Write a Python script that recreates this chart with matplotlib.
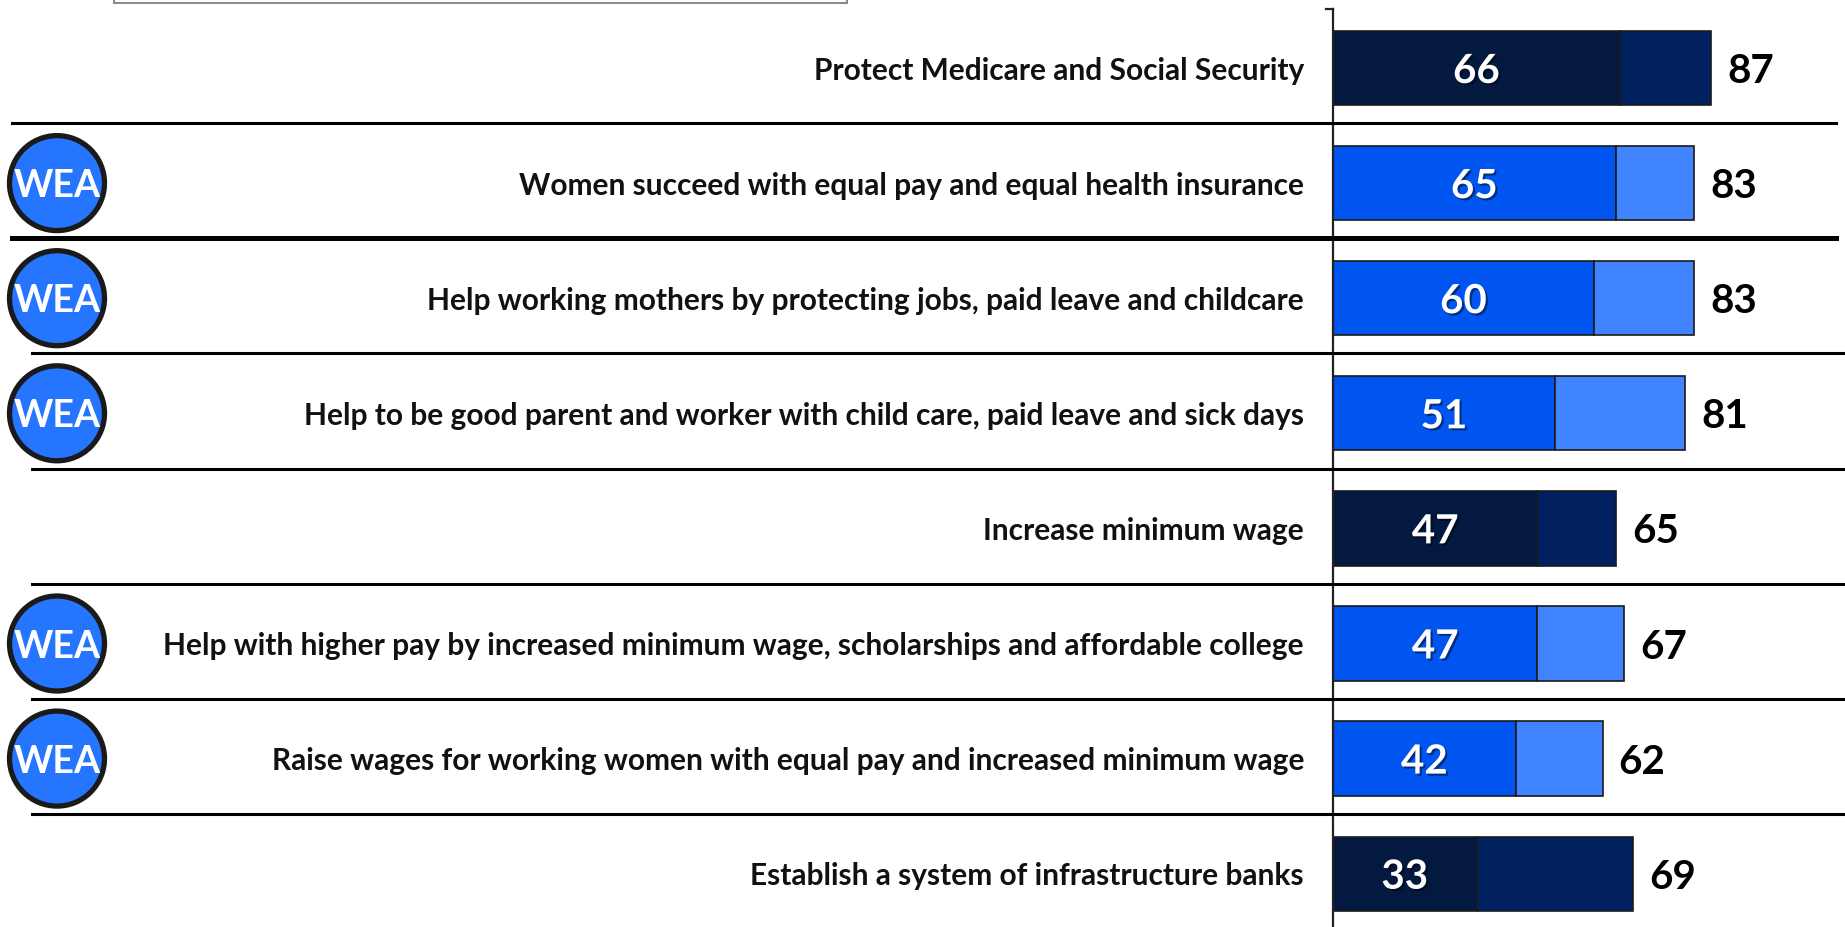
import matplotlib
matplotlib.use("Agg")
import matplotlib.pyplot as plt
import matplotlib.patches as mpatches
import matplotlib.transforms as mtransforms
import matplotlib.patheffects as pe

plt.rcParams['font.family'] = ['Lato', 'DejaVu Sans']
plt.rcParams['font.weight'] = 'bold'

# data
labels = [
    "Protect Medicare and Social Security",
    "Women succeed with equal pay and equal health insurance",
    "Help working mothers by protecting jobs, paid leave and childcare",
    "Help to be good parent and worker with child care, paid leave and sick days",
    "Increase minimum wage",
    "Help with higher pay by increased minimum wage, scholarships and affordable college",
    "Raise wages for working women with equal pay and increased minimum wage",
    "Establish a system of infrastructure banks",
]
strong = [66, 65, 60, 51, 47, 47, 42, 33]
total = [87, 83, 83, 81, 65, 67, 62, 69]
wea = [False, True, True, True, False, True, True, False]

# layout (pixels of the 1845x927 output)
W, H = 1845, 927
axis_px = 1333
ppu = 4.35
row0, step = 68, 115.1

fig = plt.figure(figsize=(W / 100, H / 100), dpi=100)
ax = fig.add_axes([axis_px / W, 0, 1 - axis_px / W, 1])
ax.set_xlim(0, (W - axis_px) / ppu)
ax.set_ylim((H - row0) / step, -row0 / step)
ax.axis('off')

rows = list(range(len(labels)))
dark1, dark2 = '#03193f', '#002060'
blue1, blue2 = '#0055f0', '#4084ff'
c1 = [blue1 if w else dark1 for w in wea]
c2 = [blue2 if w else dark2 for w in wea]
second = [t - s for s, t in zip(strong, total)]

ax.barh(rows, strong, height=0.645, color=c1, edgecolor='#1a1a1a', linewidth=1.2)
ax.barh(rows, second, left=strong, height=0.645, color=c2, edgecolor='#1a1a1a', linewidth=1.2)

shadow = [pe.SimplePatchShadow(offset=(1.5, -1.5), shadow_rgbFace='black', alpha=0.45), pe.Normal()]
for i in rows:
    ax.text(strong[i] / 2, i, str(strong[i]), color='white', fontsize=29, ha='center',
            va='center_baseline', path_effects=shadow)
    ax.text(total[i] + 16 / ppu, i, str(total[i]), color='black', fontsize=29, ha='left',
            va='center_baseline')

# vertical axis line with top tick
top_i = (9 - row0) / step
ax.plot([0, 0], [top_i, (H - row0) / step], color='#222222', lw=1.6, clip_on=False)
ax.plot([-7 / ppu, 0], [top_i, top_i], color='#222222', lw=1.6, clip_on=False)

blend = mtransforms.blended_transform_factory(fig.transFigure, ax.transData)

# separators
for k in range(len(labels) - 1):
    y = k + 0.48
    if k < 2:
        x0, x1 = 12 / W, 1836 / W
    else:
        x0, x1 = 32 / W, 1.0
    lw = 3.6 if k == 1 else 2.2
    ax.plot([x0, x1], [y, y], color='black', lw=lw, transform=blend, clip_on=False)

# category labels and WEA badges
for i in rows:
    ax.text(1304 / W, i, labels[i], transform=blend, ha='right', va='center_baseline',
            fontsize=21.5, color='#111111')
    if wea[i]:
        ax.add_patch(mpatches.Ellipse((57 / W, i), 95 / W, 95 / step, transform=blend,
                                      facecolor='#2575ff', edgecolor='#1a1a1a', lw=3.8,
                                      clip_on=False, zorder=5))
        ax.text(57 / W, i, 'WEA', transform=blend, ha='center', va='center_baseline',
                fontsize=27, color='white', zorder=6)

# partially visible title box at the top
fig.patches.append(mpatches.Rectangle((114 / W, 1 - 3 / H), 733 / W, 0.1, transform=fig.transFigure,
                                      facecolor='white', edgecolor='#8c8c8c', lw=1.5))

fig.savefig('out.png', dpi=100)
